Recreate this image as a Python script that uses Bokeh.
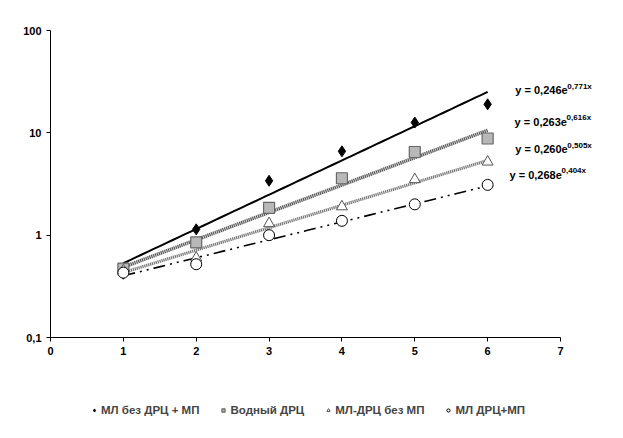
import numpy as np
from bokeh.plotting import figure
from bokeh.layouts import column
from bokeh.models import Range1d, FixedTicker, Label, Legend, LegendItem
from bokeh.embed import file_html
from bokeh.resources import INLINE

x_vals = [1, 2, 3, 4, 5, 6]
series_names = ["МЛ без ДРЦ + МП", "Водный ДРЦ", "МЛ-ДРЦ без МП", "МЛ ДРЦ+МП"]
s1 = [0.42, 1.14, 3.4, 6.6, 12.6, 19.0]
s2 = [0.47, 0.85, 1.85, 3.6, 6.5, 8.8]
s3 = [0.45, 0.60, 1.30, 1.90, 3.5, 5.2]
s4 = [0.43, 0.52, 1.00, 1.38, 2.0, 3.1]
trend_a = [0.246, 0.263, 0.260, 0.268]
trend_b = [0.771, 0.616, 0.505, 0.404]
eq_main = ["y = 0,246e", "y = 0,263e", "y = 0,260e", "y = 0,268e"]
eq_exp = ["0,771x", "0,616x", "0,505x", "0,404x"]
x_ticks = [0, 1, 2, 3, 4, 5, 6, 7]
y_ticks = [0.1, 1, 10, 100]
y_tick_labels = {0.1: "0,1", 1: "1", 10: "10", 100: "100"}

FONT = "Liberation Sans"

styles = [
    dict(marker="diamond", size=11, fill_color="black", line_color="black", line_width=1),
    dict(marker="square", size=11, fill_color="#b8b8b8", line_color="#666666", line_width=1.2),
    dict(marker="triangle", size=11, fill_color="white", line_color="#555555", line_width=1),
    dict(marker="circle", size=11, fill_color="white", line_color="black", line_width=1),
]
series = [s1, s2, s3, s4]

p = figure(width=607, height=380, output_backend="svg", toolbar_location=None,
           y_axis_type="log", x_range=Range1d(0, 7.645), y_range=Range1d(0.1, 100),
           min_border_left=50, min_border_top=30, min_border_right=0,
           min_border_bottom=43)
p.grid.visible = False
p.outline_line_color = None
p.background_fill_color = "white"
p.border_fill_color = "white"

for ax in (p.xaxis[0], p.yaxis[0]):
    ax.axis_line_color = "black"
    ax.major_tick_line_color = "black"
    ax.major_tick_out = 4
    ax.major_tick_in = 0
    ax.minor_tick_line_color = None
    ax.major_label_text_font = FONT
    ax.major_label_text_font_style = "bold"
    ax.major_label_text_font_size = "11px"
    ax.major_label_text_color = "black"
p.xaxis.ticker = FixedTicker(ticks=x_ticks)
p.xaxis.bounds = (0, 7)
p.yaxis.ticker = FixedTicker(ticks=y_ticks, minor_ticks=[])
p.yaxis.major_label_overrides = y_tick_labels

xt = np.linspace(1, 6, 60)
tr = [a * np.exp(b * xt) for a, b in zip(trend_a, trend_b)]

# trend lines
p.line(xt, tr[0], line_color="black", line_width=2)
p.line(xt, tr[1], line_color="#d0d0d0", line_width=3.5)
p.line(xt, tr[1], line_color="#505050", line_width=3.5, line_dash="1 1")
p.line(xt, tr[2], line_color="#e0e0e0", line_width=3)
p.line(xt, tr[2], line_color="#707070", line_width=3, line_dash="1 1")
p.line(xt, tr[3], line_color="black", line_width=1.6, line_dash="12 5 2 5 2 5")

for s, st in zip(series, styles):
    p.scatter(x_vals, s, **st)

# equation labels (positions in data units)
eq_x = [6.38, 6.37, 6.38, 6.30]
eq_y = [26.0, 12.8, 6.9, 3.9]
for xm, ym, m, e in zip(eq_x, eq_y, eq_main, eq_exp):
    p.add_layout(Label(x=xm, y=ym, text=m, text_font=FONT, text_font_style="bold",
                       text_font_size="11px", text_baseline="middle", text_color="black"))
    p.add_layout(Label(x=xm, y=ym, x_offset=52, y_offset=4, text=e, text_font=FONT,
                       text_font_style="bold", text_font_size="8px",
                       text_baseline="middle", text_color="black"))

# legend strip: same series drawn outside its visible range, only the legend shows
lg = figure(width=607, height=42, output_backend="svg", toolbar_location=None,
            x_range=Range1d(100, 101), y_range=Range1d(0, 1),
            x_axis_location=None, y_axis_location=None,
            min_border=0)
lg.grid.visible = False
lg.outline_line_color = None
lg_renderers = []
for s, st in zip(series, styles):
    st2 = dict(st)
    st2["size"] = 7
    lg_renderers.append(lg.scatter(x_vals, s, **st2))
legend = Legend(items=[LegendItem(label=n, renderers=[r]) for n, r in zip(series_names, lg_renderers)],
                orientation="horizontal", location=(40, 6),
                label_text_font=FONT, label_text_font_style="bold",
                label_text_font_size="11.5px", glyph_width=8, glyph_height=8,
                label_standoff=3, spacing=20, padding=0, margin=0,
                border_line_color=None, background_fill_alpha=0)
lg.add_layout(legend, "center")

layout = column(p, lg, spacing=0)
open("out.html", "w").write(file_html(layout, INLINE))
